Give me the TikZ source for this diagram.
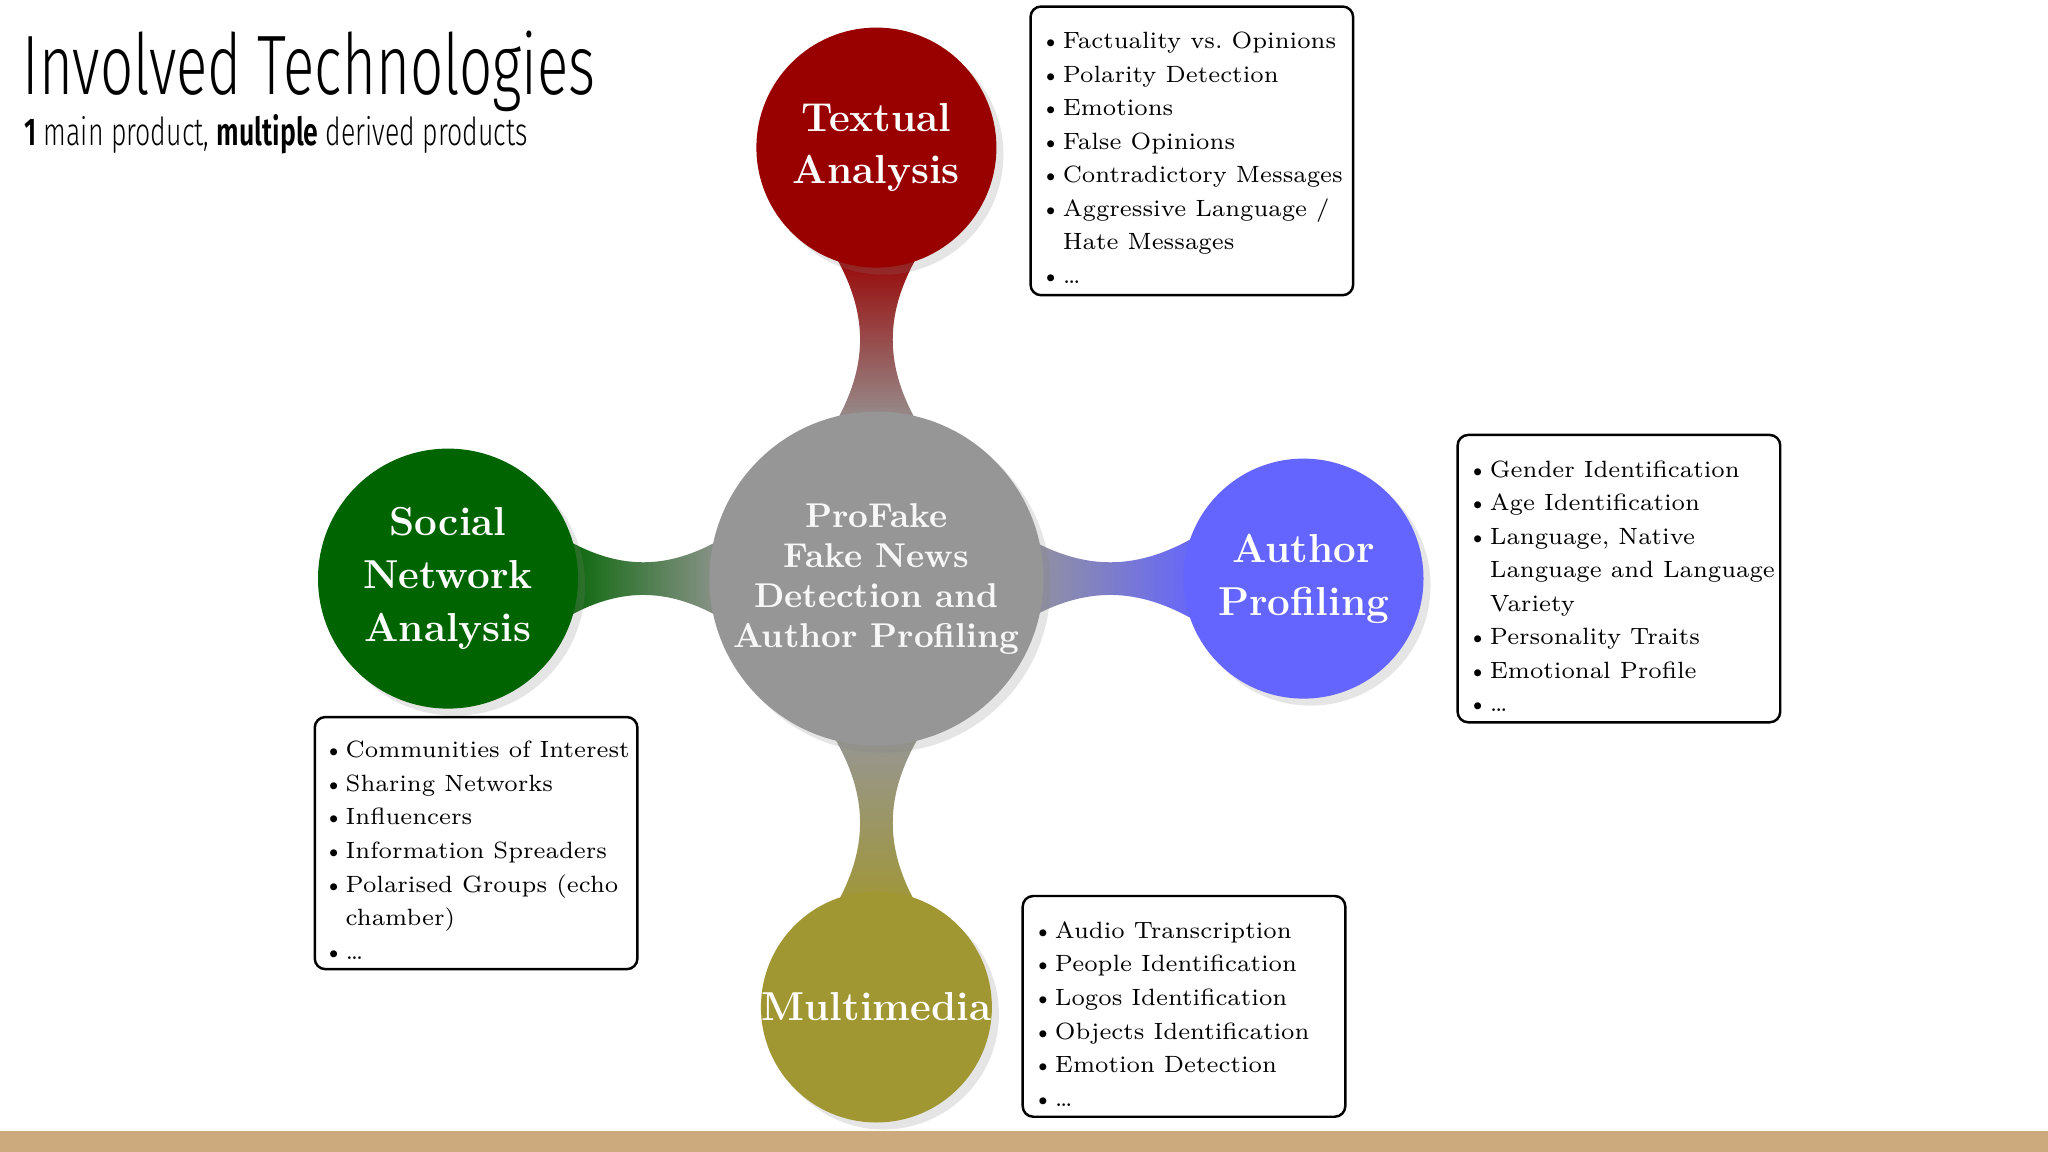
\documentclass[tikz,border=0pt]{standalone}
\usepackage{fontspec}
\usetikzlibrary{shadows}
\newfontfamily\titlefont[FakeStretch=0.69]{Fira Sans Light}[BoldFont={Fira Sans SemiBold}]
\definecolor{tred}{RGB}{153,0,0}
\definecolor{sgreen}{RGB}{0,100,0}
\definecolor{ablue}{RGB}{100,100,255}
\definecolor{molive}{RGB}{160,150,50}
\definecolor{cgray}{RGB}{150,150,150}
\definecolor{bar}{RGB}{205,170,125}
\tikzset{
 hub/.style={circle,minimum size=#1,inner sep=0pt,align=center,text=white,font=\bfseries\fontsize{11.5}{15}\selectfont,
   drop shadow={opacity=0.2,shadow xshift=2pt,shadow yshift=-2pt}},
 listbox/.style={draw,rounded corners=3pt,line width=0.7pt},
 listtext/.style={anchor=north west,align=left,inner sep=0pt,font=\fontsize{6.7}{9.55}\selectfont}
}
\newcommand\vconn[5]{\shade[top color=#4,bottom color=#5]
 ({#1-35},#2) .. controls ({#1-5},{#2+0.35*(#3-#2)}) and ({#1-5},{#3-0.35*(#3-#2)}) .. ({#1-35},#3)
 -- ({#1+35},#3) .. controls ({#1+5},{#3-0.35*(#3-#2)}) and ({#1+5},{#2+0.35*(#3-#2)}) .. ({#1+35},#2) -- cycle;}
\newcommand\hconn[5]{\shade[left color=#4,right color=#5]
 (#2,{#1-35}) .. controls ({#2+0.35*(#3-#2)},{#1-5}) and ({#3-0.35*(#3-#2)},{#1-5}) .. (#3,{#1-35})
 -- (#3,{#1+35}) .. controls ({#3-0.35*(#3-#2)},{#1+5}) and ({#2+0.35*(#3-#2)},{#1+5}) .. (#2,{#1+35}) -- cycle;}
\newcommand\bl{\textbullet\kern0.5pt}
\newcommand\ind{\phantom{\textbullet\kern0.5pt}}
\begin{document}
\begin{tikzpicture}[x=0.013061cm,y=-0.013061cm]
\useasboundingbox (0,0) rectangle (1568,882);
\fill[white] (0,0) rectangle (1568,882);
\fill[bar] (0,866) rectangle (1568,882);
% title
\node[anchor=west,inner sep=0pt,font=\titlefont\fontsize{24}{24}\selectfont] (title) at (17,55) {Involved Technologies};
\node[anchor=west,inner sep=0pt,font=\titlefont\fontsize{11}{11}\selectfont] (sub) at (18,103) {\textbf{1} main product, \textbf{multiple} derived products};
% connectors
\vconn{671}{190}{330}{tred}{cgray}
\vconn{671}{560}{700}{cgray}{molive}
\hconn{443}{425}{560}{sgreen}{cgray}
\hconn{443}{780}{920}{cgray}{ablue}
% hubs
\node[hub=3.34cm,fill=cgray,text=white!94!gray,font=\bfseries\fontsize{9.8}{11.4}\selectfont] (c) at (671,443) {ProFake\\Fake News\\Detection and\\Author Profiling};
\node[hub=2.4cm,fill=tred] (t) at (671,113) {Textual\\Analysis};
\node[hub=2.6cm,fill=sgreen] (s) at (343,443) {Social\\Network\\Analysis};
\node[hub=2.4cm,fill=ablue] (a) at (998,443) {Author\\Profiling};
\node[hub=2.27cm,fill=molive] (m) at (671,771) {Multimedia};
% lists
\draw[listbox] (789,5) rectangle (1036,226);
\node[listtext] (tl) at (796,24) {\bl Factuality vs.\ Opinions\\\bl Polarity Detection\\\bl Emotions\\\bl False Opinions\\\bl Contradictory Messages\\\bl Aggressive Language /\\\ind Hate Messages\\\bl \dots};
\draw[listbox] (1116,333) rectangle (1363,553);
\node[listtext] (al) at (1123,352) {\bl Gender Identification\\\bl Age Identification\\\bl Language, Native\\\ind Language and Language\\\ind Variety\\\bl Personality Traits\\\bl Emotional Profile\\\bl \dots};
\draw[listbox] (241,549) rectangle (488,742);
\node[listtext] (sl) at (247,567) {\bl Communities of Interest\\\bl Sharing Networks\\\bl Influencers\\\bl Information Spreaders\\\bl Polarised Groups (echo\\\ind chamber)\\\bl \dots};
\draw[listbox] (783,686) rectangle (1030,855);
\node[listtext] (ml) at (790,705) {\bl Audio Transcription\\\bl People Identification\\\bl Logos Identification\\\bl Objects Identification\\\bl Emotion Detection\\\bl \dots};
\end{tikzpicture}
\end{document}
